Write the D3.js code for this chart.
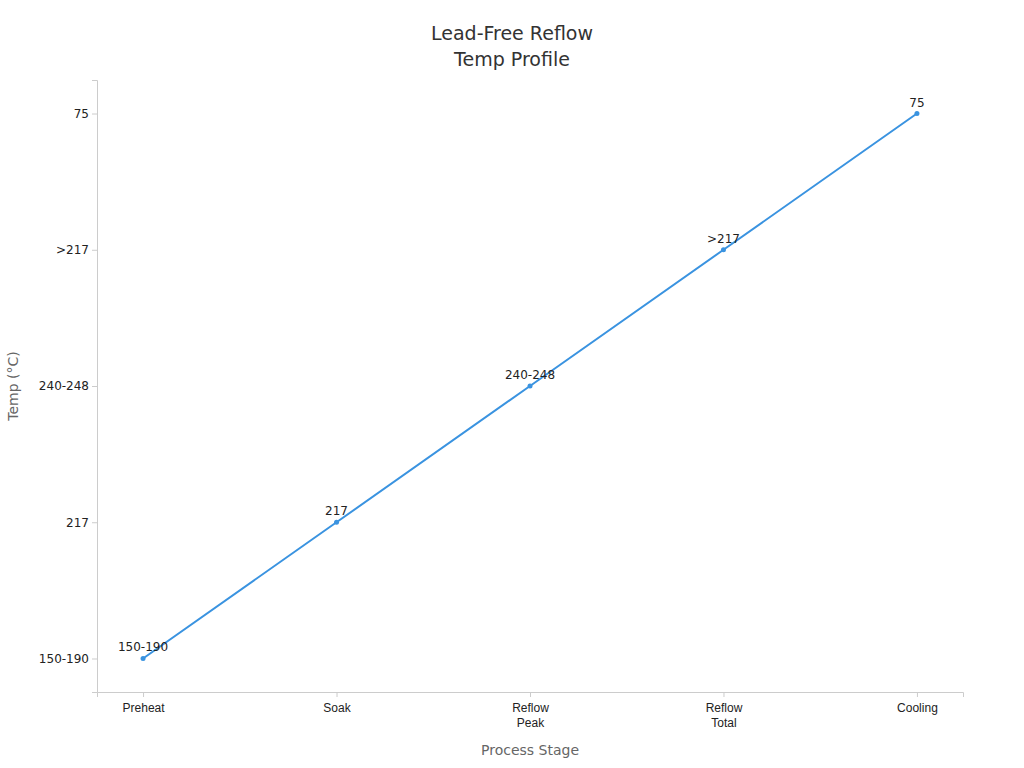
<!DOCTYPE html>
<html><head><meta charset="utf-8">
<script src="https://cdn.jsdelivr.net/npm/d3@7/dist/d3.min.js"></script>
<style>body{margin:0;background:#fff;font-family:"DejaVu Sans",sans-serif}</style>
</head><body><svg id="c" width="1024" height="768"></svg>
<script>
const stages = ["Preheat","Soak","Reflow\nPeak","Reflow\nTotal","Cooling"];
const tempLevels = ["150-190","217","240-248",">217","75"];
const temps = ["150-190","217","240-248",">217","75"];
const svg = d3.select("#c");
const L=97,R=963,T=80,B=692;
const x = d3.scalePoint().domain(stages).range([L,R]).padding(0.238);
const y = d3.scalePoint().domain(tempLevels).range([B,T]).padding(0.246);
const gx = svg.append("g").attr("transform",`translate(0,${B})`).call(d3.axisBottom(x).tickSize(5).tickFormat(""));
gx.selectAll("path,line").attr("stroke","#ccc");
gx.selectAll(".tick").each(function(d){
  const t=d3.select(this).append("text").attr("fill","#222").attr("font-size",12).attr("text-anchor","middle");
  d.split("\n").forEach((s,i)=>t.append("tspan").attr("x",0).attr("y",20+i*15).text(s));
});
const gy = svg.append("g").attr("transform",`translate(${L},0)`).call(d3.axisLeft(y).tickSize(5));
gy.selectAll("path,line").attr("stroke","#ccc");
gy.selectAll("text").attr("fill","#222").attr("font-size",12).attr("font-family","DejaVu Sans");
const pts = stages.map((s,i)=>[x(s),y(temps[i])]);
svg.append("path").attr("d",d3.line()(pts)).attr("fill","none").attr("stroke","#3a93e0").attr("stroke-width",2);
svg.selectAll("circle").data(pts).join("circle").attr("cx",d=>d[0]).attr("cy",d=>d[1]).attr("r",2.5).attr("fill","#3a93e0");
svg.selectAll(".lbl").data(pts).join("text").attr("x",d=>d[0]).attr("y",d=>d[1]-7).attr("text-anchor","middle").attr("font-size",12).attr("fill","#222").text((d,i)=>temps[i]);
svg.append("text").attr("x",512).attr("y",40).attr("text-anchor","middle").attr("font-size",19).attr("fill","#333").text("Lead-Free Reflow");
svg.append("text").attr("x",512).attr("y",66).attr("text-anchor","middle").attr("font-size",19).attr("fill","#333").text("Temp Profile");
svg.append("text").attr("x",530).attr("y",755).attr("text-anchor","middle").attr("font-size",14).attr("fill","#666").text("Process Stage");
svg.append("text").attr("transform","translate(18,386) rotate(-90)").attr("text-anchor","middle").attr("font-size",14).attr("fill","#666").text("Temp (°C)");
</script></body></html>
